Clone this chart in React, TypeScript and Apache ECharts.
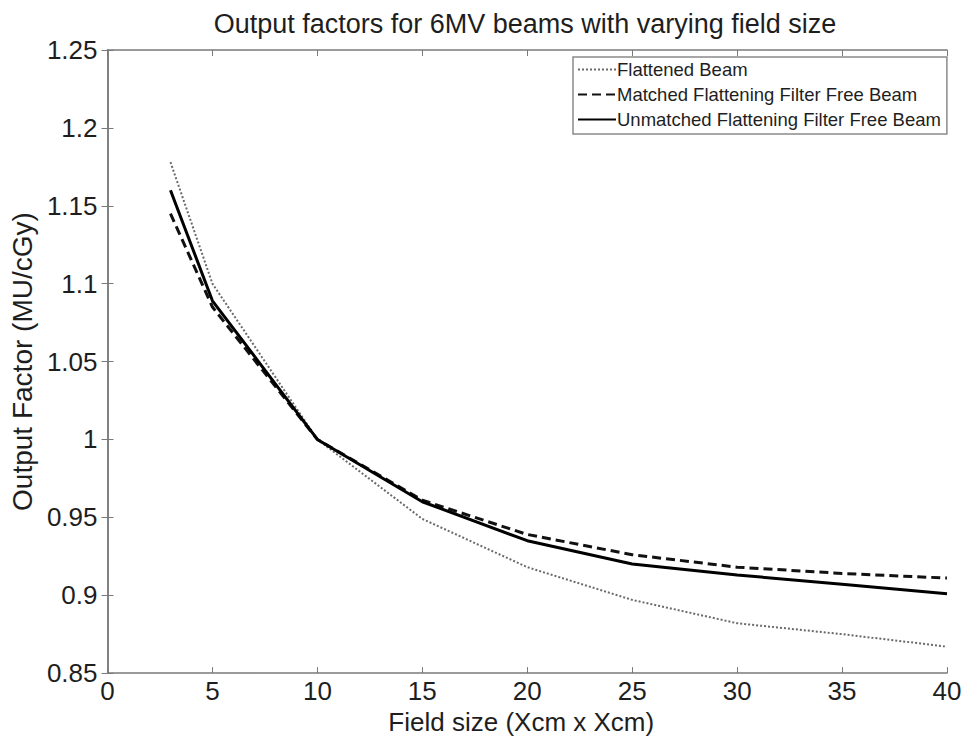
import React, { useEffect, useRef } from "react";
import * as echarts from "echarts";

const fieldSizes = [3, 5, 10, 15, 20, 25, 30, 35, 40];
const flattened = [1.178, 1.1, 1.0, 0.949, 0.918, 0.897, 0.882, 0.875, 0.867];
const matchedFFF = [1.145, 1.085, 1.0, 0.961, 0.939, 0.926, 0.918, 0.914, 0.911];
const unmatchedFFF = [1.16, 1.089, 1.0, 0.96, 0.935, 0.92, 0.913, 0.907, 0.901];
const seriesNames = [
  "Flattened Beam",
  "Matched Flattening Filter Free Beam",
  "Unmatched Flattening Filter Free Beam",
];

const FONT = "'Liberation Sans', Arial, Helvetica, sans-serif";
const AXIS_COLOR = "#7a7a7a";
const TEXT_COLOR = "#1e1e1e";

export default function App() {
  const ref = useRef<HTMLDivElement>(null);
  useEffect(() => {
    if (!ref.current) return;
    const chart = echarts.init(ref.current, null, { renderer: "svg" });
    const pairs = (ys: number[]) => fieldSizes.map((x, i) => [x, ys[i]]);
    const axisCommon = {
      axisLine: { show: true, lineStyle: { color: AXIS_COLOR, width: 1.5 } },
      axisTick: { show: true, inside: true, length: 6, lineStyle: { color: AXIS_COLOR, width: 1 } },
      splitLine: { show: false },
    };
    chart.setOption({
      animation: false,
      backgroundColor: "#ffffff",
      textStyle: { fontFamily: FONT },
      title: {
        text: "Output factors for 6MV beams with varying field size",
        left: 520,
        textAlign: "center",
        top: 5,
        textStyle: { fontFamily: FONT, fontSize: 27, fontWeight: "normal", color: TEXT_COLOR },
      },
      grid: { left: 100, right: 21, top: 50, bottom: 63, containLabel: false },
      legend: {
        orient: "vertical",
        left: 573,
        top: 57,
        padding: [3, 6, 5, 4],
        itemGap: 6,
        itemWidth: 38,
        itemHeight: 20,
        backgroundColor: "#ffffff",
        borderColor: "#8a8a8a",
        borderWidth: 1.5,
        borderRadius: 0,
        itemStyle: { opacity: 0, borderWidth: 0 },
        textStyle: { fontFamily: FONT, fontSize: 18.5, color: TEXT_COLOR, padding: [0, 0, 0, -4] },
        data: seriesNames,
      },
      xAxis: [
        {
          type: "value",
          min: 0,
          max: 40,
          interval: 5,
          name: "Field size (Xcm x Xcm)",
          nameLocation: "middle",
          nameGap: 33,
          nameTextStyle: { fontFamily: FONT, fontSize: 26, color: TEXT_COLOR, padding: [0, 12, 0, 0] },
          axisLabel: { fontFamily: FONT, fontSize: 26, color: TEXT_COLOR, margin: 5 },
          ...axisCommon,
        },
        {
          type: "value",
          position: "top",
          min: 0,
          max: 40,
          interval: 5,
          axisLabel: { show: false },
          ...axisCommon,
        },
      ],
      yAxis: [
        {
          type: "value",
          min: 0.85,
          max: 1.25,
          interval: 0.05,
          name: "Output Factor (MU/cGy)",
          nameLocation: "middle",
          nameGap: 70,
          nameTextStyle: { fontFamily: FONT, fontSize: 28, color: TEXT_COLOR },
          axisLabel: {
            fontFamily: FONT,
            fontSize: 26,
            color: TEXT_COLOR,
            margin: 10,
            formatter: (v: number) => String(parseFloat(v.toFixed(2))),
          },
          ...axisCommon,
        },
        {
          type: "value",
          position: "right",
          min: 0.85,
          max: 1.25,
          interval: 0.05,
          axisLabel: { show: false },
          ...axisCommon,
        },
      ],
      series: [
        {
          name: seriesNames[0],
          type: "line",
          data: pairs(flattened),
          showSymbol: false,
          symbol: "none",
          color: "#6a6a6a",
          lineStyle: { color: "#6a6a6a", width: 2, type: [2, 2] },
        },
        {
          name: seriesNames[1],
          type: "line",
          data: pairs(matchedFFF),
          showSymbol: false,
          symbol: "none",
          color: "#111111",
          lineStyle: { color: "#111111", width: 3, type: [9, 5] },
        },
        {
          name: seriesNames[2],
          type: "line",
          data: pairs(unmatchedFFF),
          showSymbol: false,
          symbol: "none",
          color: "#000000",
          lineStyle: { color: "#000000", width: 3, type: "solid" },
        },
      ],
    });
    return () => chart.dispose();
  }, []);
  return <div ref={ref} style={{ width: 968, height: 740, position: "absolute", left: 0, top: 0 }} />;
}
